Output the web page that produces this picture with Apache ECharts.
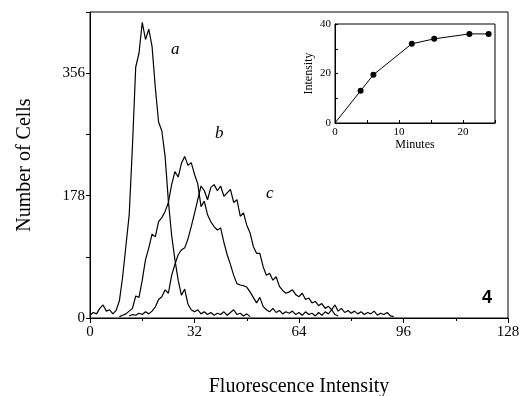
<!DOCTYPE html>
<html>
<head>
<meta charset="utf-8">
<script src="https://cdn.jsdelivr.net/npm/echarts@6/dist/echarts.min.js"></script>
<style>
  html, body { margin: 0; padding: 0; background: #fff; }
  #chart { width: 526px; height: 396px; }
</style>
</head>
<body>
<div id="chart"></div>
<script>
// histogram a: channels 0..49
const startA = 0;
const cellsA = [4, 8, 6, 14, 19, 10, 12, 6, 11, 25, 60, 105, 150, 250, 365, 385, 430, 405, 420, 395,
  335, 285, 272, 235, 170, 120, 85, 55, 33, 42, 20, 12, 9, 12, 6, 9, 5, 8, 4, 7,
  5, 9, 4, 8, 12, 5, 7, 3, 6, 2];
// histogram b: channels 9..76
const startB = 9;
const cellsB = [2, 4, 6, 10, 14, 32, 30, 55, 85, 102, 122, 118, 140, 146, 155, 168, 194, 213, 205, 225,
  235, 222, 226, 209, 195, 162, 170, 150, 140, 133, 128, 131, 110, 92, 78, 62, 50, 48, 47, 45,
  38, 30, 22, 30, 17, 12, 9, 14, 8, 11, 6, 9, 7, 10, 5, 8, 4, 9, 5, 7,
  3, 8, 4, 9, 6, 12, 5, 3];
// histogram c: channels 12..93
const startC = 12;
const cellsC = [3, 5, 4, 7, 5, 9, 6, 10, 16, 27, 31, 41, 36, 62, 78, 92, 99, 102, 115, 133,
  152, 172, 192, 185, 172, 190, 194, 185, 192, 177, 182, 187, 168, 172, 148, 153, 135, 124, 104, 94,
  94, 75, 62, 65, 55, 60, 46, 40, 36, 38, 41, 34, 31, 36, 27, 29, 22, 24, 18, 21,
  14, 17, 12, 19, 10, 14, 8, 11, 7, 10, 6, 9, 5, 8, 6, 10, 4, 7, 5, 8,
  3, 2];

const xLabels = [0, 32, 64, 96, 128];
const yLabels = [0, 178, 356];

// inset
const minutes = [0, 4, 6, 12, 15.5, 21, 24];
const intensity = [0, 13, 19.5, 32, 34, 36, 36];
const insetXLabels = [0, 10, 20];
const insetYLabels = [0, 20, 40];

const toPairs = (start, arr) => arr.map((v, i) => [start + i, v]);
const serif = "'Liberation Serif', 'DejaVu Serif', serif";

const chart = echarts.init(document.getElementById("chart"));

const histLine = (name, start, arr) => ({
  name,
  type: "line",
  xAxisIndex: 0,
  yAxisIndex: 0,
  symbol: "none",
  lineStyle: { color: "#000", width: 1.2 },
  data: toPairs(start, arr),
});

const option = {
  backgroundColor: "#fff",
  animation: false,
  grid: [
    { left: 90, right: 18, top: 12, bottom: 78, show: true, borderColor: "#000", borderWidth: 1, outerBoundsMode: "none" },
    { left: 335, right: 31, top: 24, bottom: 273, show: true, borderColor: "#000", borderWidth: 1, backgroundColor: "#fff", outerBoundsMode: "none" },
  ],
  xAxis: [
    {
      gridIndex: 0,
      type: "value",
      min: 0,
      max: 128,
      interval: 32,
      name: "Fluorescence Intensity",
      nameLocation: "middle",
      nameGap: 59,
      nameTextStyle: { fontFamily: serif, fontSize: 20, color: "#000" },
      axisLine: { lineStyle: { color: "#000", width: 1 } },
      axisTick: { length: 5, lineStyle: { color: "#000" } },
      minorTick: { show: true, splitNumber: 2, length: 3, lineStyle: { color: "#000" } },
      splitLine: { show: false },
      axisLabel: {
        fontFamily: serif, fontSize: 15, color: "#000", margin: 7,
        formatter: (v) => (xLabels.includes(v) ? String(v) : ""),
      },
    },
    {
      gridIndex: 1,
      type: "value",
      min: 0,
      max: 25,
      interval: 5,
      name: "Minutes",
      nameLocation: "middle",
      nameGap: 14,
      nameTextStyle: { fontFamily: serif, fontSize: 12, color: "#000" },
      axisLine: { lineStyle: { color: "#000", width: 1 } },
      axisTick: { inside: true, length: 3, lineStyle: { color: "#000" } },
      splitLine: { show: false },
      axisLabel: {
        fontFamily: serif, fontSize: 11, color: "#000", margin: 4,
        formatter: (v) => (insetXLabels.includes(v) ? String(v) : ""),
      },
    },
  ],
  yAxis: [
    {
      gridIndex: 0,
      type: "value",
      min: 0,
      max: 445,
      interval: 89,
      name: "Number of Cells",
      nameLocation: "middle",
      nameGap: 55,
      nameTextStyle: { fontFamily: serif, fontSize: 20, color: "#000" },
      axisLine: { lineStyle: { color: "#000", width: 1 } },
      axisTick: { length: 4, lineStyle: { color: "#000" } },
      splitLine: { show: false },
      axisLabel: {
        fontFamily: serif, fontSize: 15, color: "#000", margin: 5,
        formatter: (v) => (yLabels.includes(v) ? String(v) : ""),
      },
    },
    {
      gridIndex: 1,
      type: "value",
      min: 0,
      max: 40,
      interval: 10,
      name: "Intensity",
      nameLocation: "middle",
      nameGap: 20,
      nameTextStyle: { fontFamily: serif, fontSize: 12, color: "#000" },
      axisLine: { lineStyle: { color: "#000", width: 1 } },
      axisTick: { inside: true, length: 3, lineStyle: { color: "#000" } },
      splitLine: { show: false },
      axisLabel: {
        fontFamily: serif, fontSize: 11, color: "#000", margin: 4,
        formatter: (v) => (insetYLabels.includes(v) ? String(v) : ""),
      },
    },
  ],
  series: [
    histLine("a", startA, cellsA),
    histLine("b", startB, cellsB),
    histLine("c", startC, cellsC),
    {
      name: "inset",
      type: "line",
      xAxisIndex: 1,
      yAxisIndex: 1,
      symbol: "circle",
      symbolSize: 6,
      itemStyle: { color: "#000" },
      lineStyle: { color: "#000", width: 1 },
      data: minutes.map((m, i) => (i === 0 ? { value: [m, intensity[i]], symbolSize: 0 } : [m, intensity[i]])),
    },
  ],
  graphic: [
    { type: "text", left: 171, top: 41, style: { text: "a", font: "italic 17px " + serif, fill: "#000" } },
    { type: "text", left: 215, top: 125, style: { text: "b", font: "italic 17px " + serif, fill: "#000" } },
    { type: "text", left: 266, top: 185, style: { text: "c", font: "italic 17px " + serif, fill: "#000" } },
    { type: "text", left: 482, top: 289, style: { text: "4", font: "bold 18px 'Liberation Sans', Arial, sans-serif", fill: "#000" } },
  ],
};

chart.setOption(option);
</script>
</body>
</html>
